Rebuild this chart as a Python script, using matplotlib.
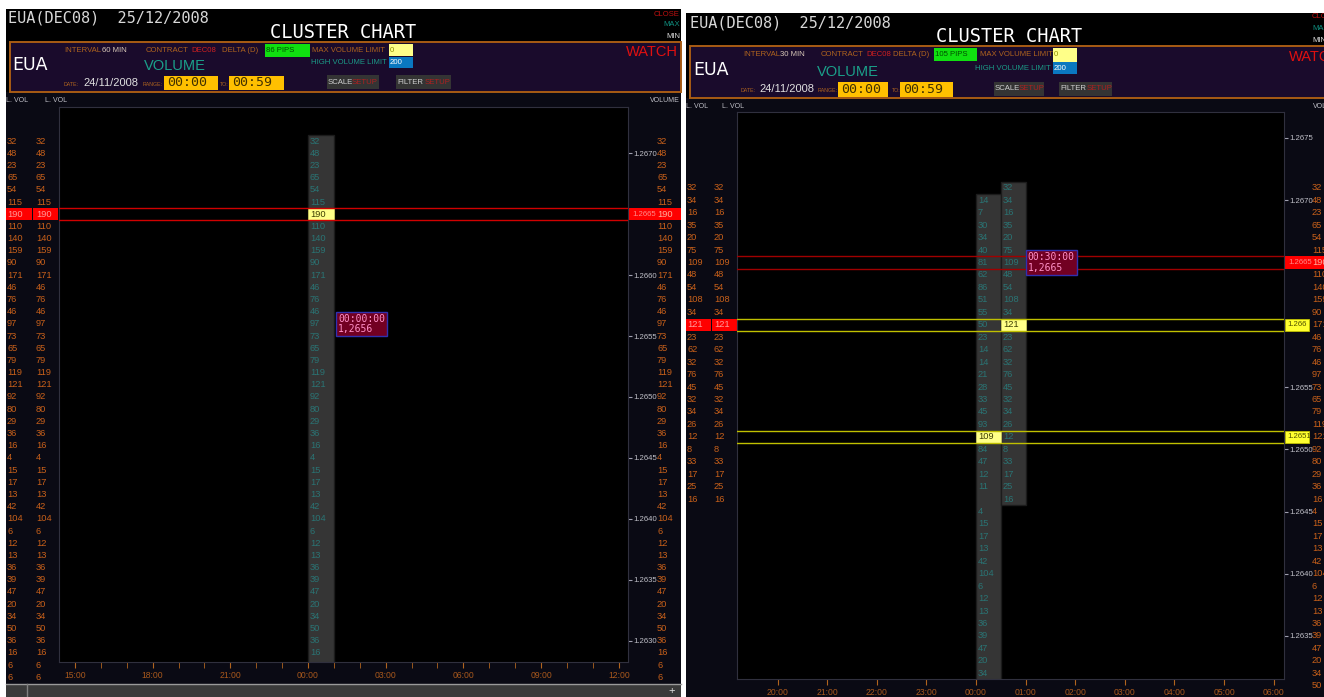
import matplotlib
matplotlib.use("Agg")
import matplotlib.pyplot as plt
from matplotlib.patches import Rectangle
import numpy as np

# ---------------- data ----------------
PIP = 0.0001
hourly_top_price = 1.2671
hourly_volume = [32, 48, 23, 65, 54, 115, 190, 110, 140, 159, 90, 171, 46, 76, 46, 97,
                 73, 65, 79, 119, 121, 92, 80, 29, 36, 16, 4, 15, 17, 13, 42, 104, 6,
                 12, 13, 36, 39, 47, 20, 34, 50, 36, 16, 6, 6]
half1_top_price = 1.2670
half1_volume = [14, 7, 30, 34, 40, 81, 62, 86, 51, 55, 50, 23, 14, 14, 21, 28, 33, 45,
                93, 109, 84, 47, 12, 11, 0, 4, 15, 17, 13, 42, 104, 6, 12, 13, 36, 39,
                47, 20, 34, 50, 36, 16, 6, 6]
half2_top_price = 1.2671
half2_volume = [32, 34, 16, 35, 20, 75, 109, 48, 54, 108, 34, 121, 23, 62, 32, 76, 45,
                32, 34, 26, 12, 8, 33, 17, 25, 16]

left_time_ticks = [15, 18, 21, 24, 27, 30, 33, 36]
left_time_labels = ['15:00', '18:00', '21:00', '00:00', '03:00', '06:00', '09:00', '12:00']
right_time_ticks = [20, 21, 22, 23, 24, 25, 26, 27, 28, 29, 30]
right_time_labels = ['20:00', '21:00', '22:00', '23:00', '00:00', '01:00', '02:00',
                     '03:00', '04:00', '05:00', '06:00']
left_price_ticks = [1.2630, 1.2635, 1.2640, 1.2645, 1.2650, 1.2655, 1.2660, 1.2665, 1.2670]
right_price_ticks = [1.2635, 1.2640, 1.2645, 1.2650, 1.2655, 1.2660, 1.2665, 1.2670, 1.2675]
left_cursor = ('00:00:00', 1.2656)
right_cursor = ('00:30:00', 1.2665)

# ---------------- setup ----------------
W, H = 1324, 697
fig = plt.figure(figsize=(W / 100, H / 100), dpi=100)
fig.patch.set_facecolor('white')

NARROW = 'Liberation Sans'
MONO = 'DejaVu Sans Mono'
VAL_FS = 6.7

ORANGE = '#c8601a'
TEAL = '#2a7474'
NAVY = '#0a0a14'
GRAYTXT = '#c0c0c8'
LBL = '#b0641e'


def add_px_axes(x0, y0, x1, y1):
    return fig.add_axes([x0 / W, (H - y1) / H, (x1 - x0) / W, (y1 - y0) / H])


bg = fig.add_axes([0, 0, 1, 1])
bg.set_xlim(0, W)
bg.set_ylim(H, 0)
bg.axis('off')


def T(x, y, s, color, size=5.6, family=None, ha='left', va='center', **kw):
    bg.text(x, y, s, color=color, fontsize=size, family=family or NARROW,
            ha=ha, va=va, **kw)


def R(x0, y0, x1, y1, fc, ec='none', lw=0, z=1):
    bg.add_patch(Rectangle((x0, y0), x1 - x0, y1 - y0, fc=fc, ec=ec, lw=lw, zorder=z))


def header(h):
    x0, x1, top = h['panel']
    R(x0, top, x1, H, 'black')
    R(x0, h['box'][3], x1, H, NAVY)
    T(*h['title'], 'EUA(DEC08)  25/12/2008', '#d8d8d8', size=11, family=MONO)
    T(*h['cluster'], 'CLUSTER CHART', 'white', size=13.5, family=MONO, ha='center')
    cx, ha = h['close']
    for yy, s, c in zip(h['close_y'], ['CLOSE', 'MAX', 'MIN'], ['#c01010', '#109080', '#e0e0e0']):
        T(cx, yy, s, c, size=5.5, ha=ha, clip_on=True)
    bx = h['box']
    R(bx[0], bx[1], bx[2], bx[3], '#1a0b2c', ec='#a85c14', lw=1.4, z=2)
    y1 = h['row1']
    T(h['interval'], y1, 'INTERVAL', LBL, zorder=3)
    T(h['interval_val'], y1, h['interval_txt'], '#d8c8b8', zorder=3)
    T(h['contract'], y1, 'CONTRACT', LBL, zorder=3)
    T(h['dec'], y1, 'DEC08', '#d02020', zorder=3)
    T(h['delta'], y1, 'DELTA (D)', LBL, zorder=3)
    g = h['green']
    R(g[0], g[1], g[2], g[3], '#10e010', z=3)
    T(g[0] + 1, (g[1] + g[3]) / 2, h['pips'], '#005000', zorder=4)
    T(h['maxvol'], y1, 'MAX VOLUME LIMIT', LBL, zorder=3)
    yb = h['ybox']
    R(yb[0], yb[1], yb[2], yb[3], '#ffff88', z=3)
    T(yb[0] + 1, (yb[1] + yb[3]) / 2, '0', '#909000', zorder=4)
    T(h['highvol'][0], h['highvol'][1], 'HIGH VOLUME LIMIT', '#1a9a86', ha='right', zorder=3)
    bb = h['bbox']
    R(bb[0], bb[1], bb[2], bb[3], '#0a78c0', z=3)
    T(bb[0] + 1, (bb[1] + bb[3]) / 2, '200', 'white', zorder=4)
    wx, wy, wha = h['watch']
    T(wx, wy, 'WATCH', '#e01010', size=10.5, ha=wha, zorder=4, clip_on=True)
    T(*h['eua'], 'EUA', 'white', size=12.5, family='DejaVu Sans', zorder=3)
    T(h['volume'][0], h['volume'][1], 'VOLUME', '#1aa08a', size=10.5, ha='center', zorder=3)
    dy = h['row3']
    T(h['date'], dy + 1, 'DATE:', LBL, size=3.8, zorder=3)
    T(h['dateval'], dy, '24/11/2008', '#e0e0e0', size=8, zorder=3)
    T(h['range'], dy + 1, 'RANGE:', LBL, size=3.8, zorder=3)
    for b, s in zip(h['tboxes'], ['00:00', '00:59']):
        R(b[0], b[1], b[2], b[3], '#ffc000', z=3)
        T(b[0] + 3, (b[1] + b[3]) / 2, s, '#403000', size=9.5, family=MONO, zorder=4)
    T(h['to'], dy + 1, 'TO:', LBL, size=3.8, zorder=3)
    for b, s, sx in zip(h['sboxes'], ['SCALE', 'FILTER'], h['setup_x']):
        R(b[0], b[1], b[2], b[3], '#343434', z=3)
        T(b[0] + 1, (b[1] + b[3]) / 2, s, '#d0d0d0', size=5.6, zorder=4)
        T(sx, (b[1] + b[3]) / 2, 'SETUP', '#b02020', size=5.6, zorder=4)
    for lx in h['lvol_x']:
        T(lx, h['lvol_y'], 'L. VOL', GRAYTXT, size=5)
    T(h['vol_lbl'][0], h['lvol_y'], 'VOLUME', GRAYTXT, size=5, ha=h['vol_lbl'][1], clip_on=True)


left_header = dict(panel=(6, 681, 9), title=(8, 18), cluster=(343, 33), close=(680, 'right'),
                   close_y=(14, 25, 36), box=(10, 42, 681, 92), row1=51, interval=64,
                   interval_val=102, interval_txt='60 MIN', contract=146, dec=191, delta=222,
                   green=(265, 44, 310, 57), pips='86 PIPS', maxvol=312, ybox=(389, 44, 413, 56),
                   highvol=(387, 62), bbox=(389, 57, 413, 68), watch=(678, 52, 'right'),
                   eua=(12, 65), volume=(175, 66), row3=83, date=64, dateval=83, range=143,
                   tboxes=[(164, 76, 218, 90), (229, 76, 284, 90)], to=220,
                   sboxes=[(327, 75, 379, 89), (396, 75, 451, 89)], setup_x=[352, 425],
                   lvol_x=(6, 45), lvol_y=100, vol_lbl=(680, 'right'))
right_header = dict(panel=(686, 1324, 13), title=(690, 22.5), cluster=(1009, 37), close=(1312, 'left'),
                    close_y=(17, 28, 40), box=(690, 46, 1330, 98), row1=55, interval=743,
                    interval_val=780, interval_txt='30 MIN', contract=821, dec=866, delta=893,
                    green=(934, 48, 977, 61), pips='105 PIPS', maxvol=980, ybox=(1053, 48, 1077, 62),
                    highvol=(1051, 68), bbox=(1053, 62, 1077, 74), watch=(1289, 57, 'left'),
                    eua=(693, 70), volume=(848, 72), row3=89, date=741, dateval=759, range=818,
                    tboxes=[(838, 82, 888, 97), (900, 82, 953, 97)], to=892,
                    sboxes=[(994, 82, 1044, 96), (1059, 82, 1112, 96)], setup_x=[1019, 1087],
                    lvol_x=(686, 722), lvol_y=106, vol_lbl=(1313, 'left'))
header(left_header)
header(right_header)

# scrollbar of left window
R(6, 684, 681, 697, '#3a3a3a', z=2)
bg.plot([6, 681], [684, 684], color='#9a9a9a', lw=1, zorder=3)
bg.plot([27, 27], [684, 697], color='#808080', lw=1, zorder=3)
T(672, 691, '+', '#e0e0e0', size=8, ha='center', zorder=4)
T(643, 673, '->', 'white', size=7.5, family=MONO, zorder=5)
T(1298, 690, '->', 'white', size=7.5, family=MONO, zorder=5)


# ---------------- chart panels ----------------
def draw_panel(cfg):
    def p_of(y):
        return cfg['ref_price'] + (cfg['ref_y'] - y) / cfg['ppp'] * PIP

    def h_of(x):
        return 24 + (x - cfg['x24']) / cfg['pph']

    px0, py0, px1, py1 = cfg['panel']
    cx0, cy0, cx1, cy1 = cfg['chart']
    pph = cfg['pph']
    pan_lo, pan_hi = p_of(py1 - 4), p_of(py0)
    ch_lo, ch_hi = p_of(cy1 - 4), p_of(cy0)

    # side columns (volume ladders)
    pax = add_px_axes(px0, py0, px1, py1)
    pax.set_xlim(px0, px1)
    pax.set_ylim(p_of(py1), p_of(py0))
    pax.set_facecolor(NAVY)
    pax.set_xticks([])
    pax.set_yticks([])
    for s in pax.spines.values():
        s.set_visible(False)

    hp = np.round(hourly_top_price - PIP * np.arange(len(hourly_volume)), 4)
    hmax_p = hp[int(np.argmax(hourly_volume))]
    lv_vals, lv_top = cfg['lvol']
    lp = np.round(lv_top - PIP * np.arange(len(lv_vals)), 4)
    lmax_p = lp[int(np.argmax(lv_vals))]

    b1, b2 = cfg['lv_bands']
    for (a, b) in (b1, b2):
        pax.add_patch(Rectangle((a, lmax_p - PIP / 2), b - a, PIP, fc='#ff0000', ec='none', zorder=2))
    for p, v in zip(lp, lv_vals):
        if not (pan_lo <= p <= pan_hi):
            continue
        c = '#ff9a9a' if p == lmax_p else ORANGE
        for xx in cfg['lv_x']:
            pax.text(xx, p, str(v), color=c, fontsize=VAL_FS, family=NARROW, va='center',
                     ha='left', zorder=3, clip_on=True)
    # right axis volume ladder
    pax.add_patch(Rectangle((cx1 + 1, hmax_p - PIP / 2), px1 - cx1, PIP, fc='#ff0000', ec='none', zorder=2))
    pax.text(cx1 + 4, hmax_p, f"{hmax_p:.4f}", color='#ff8a8a', fontsize=5.6, family=NARROW,
             va='center', ha='left', zorder=3)
    for p, v in zip(hp, hourly_volume):
        if not (pan_lo <= p <= pan_hi):
            continue
        c = '#ffb0a0' if p == hmax_p else ORANGE
        pax.text(cfg['vol_x'], p, str(v), color=c, fontsize=VAL_FS, family=NARROW, va='center',
                 ha='left', zorder=3, clip_on=True)

    # main chart
    cax = add_px_axes(cx0, cy0, cx1, cy1)
    cax.set_facecolor('black')
    cax.set_xlim(h_of(cx0), h_of(cx1))
    cax.set_ylim(p_of(cy1), p_of(cy0))
    cax.set_xticks(cfg['xt'])
    cax.set_xticklabels(cfg['xl'])
    cax.set_xticks(cfg['xminor'], minor=True)
    cax.yaxis.tick_right()
    marked = {hmax_p}
    bar_maxes = []
    for (h0, w, top, vols) in cfg['bars']:
        pr = np.round(top - PIP * np.arange(len(vols)), 4)
        bar_maxes.append(pr[int(np.argmax(vols))])
    marked |= set(bar_maxes)
    yt = [t for t in cfg['yt'] if round(t, 4) not in marked]
    cax.set_yticks(yt)
    cax.set_yticklabels([f"{t:.4f}" for t in yt])
    cax.tick_params(axis='x', which='both', colors='#b0641e', labelcolor='#a8581c',
                    labelsize=6.2, length=4, direction='out', pad=2.5)
    cax.tick_params(axis='y', colors='#a0a0b0', labelcolor=GRAYTXT, labelsize=5.6,
                    length=3, direction='out', pad=1)
    for lab in cax.get_xticklabels() + cax.get_yticklabels():
        lab.set_family(NARROW)
    for s in cax.spines.values():
        s.set_color('#30303e')
        s.set_linewidth(0.8)

    for (h0, w, top, vols) in cfg['bars']:
        n = len(vols)
        cax.bar(h0, n * PIP, bottom=top - (n - 0.5) * PIP, width=w, align='edge',
                color='#353535', edgecolor='#1c1c1c', linewidth=1, zorder=2)
        pr = np.round(top - PIP * np.arange(n), 4)
        im = int(np.argmax(vols))
        cax.add_patch(Rectangle((h0, pr[im] - PIP / 2), w, PIP, fc='#ffff88', ec='#c8c860',
                                lw=0.6, zorder=3))
        for i, (p, v) in enumerate(zip(pr, vols)):
            if v == 0 or not (ch_lo <= p <= ch_hi):
                continue
            cax.text(h0 + 2 / pph, p, str(v), color='#3c3c00' if i == im else TEAL,
                     fontsize=VAL_FS, family=NARROW, va='center', ha='left', zorder=4, clip_on=True)

    # highlighted rows
    for yy in (hmax_p - PIP / 2, hmax_p + PIP / 2):
        cax.axhline(yy, color=cfg['red_line'], lw=1, zorder=5)
    for p in set(bar_maxes) - {hmax_p}:
        for yy in (p - PIP / 2, p + PIP / 2):
            cax.axhline(yy, color='#c0c000', lw=1, zorder=5)
        pax.add_patch(Rectangle((cx1 + 1, p - PIP / 2), cfg['ybox_w'], PIP, fc='#ffff30',
                                ec='#c0c000', lw=0.6, zorder=2))
        pax.text(cx1 + 3, p, f"{p:.4f}".rstrip('0'), color='#505000', fontsize=5.6,
                 family=NARROW, va='center', ha='left', zorder=3)

    # cursor tooltip
    t_lbl, t_price = cfg['cursor']
    cax.text(cfg['cursor_h'] + cfg['tip_dx'] / pph, t_price,
             f"{t_lbl}\n{t_price:.4f}".replace('.', ','), family=MONO, fontsize=7,
             color='#ff90c8', va='center', ha='left', linespacing=1.05, zorder=7,
             bbox=dict(boxstyle='square,pad=0.2', fc='#720022', ec='#3030b0', lw=1))


left_cfg = dict(ref_price=1.2670, ref_y=153.3, ppp=12.185, x24=308, pph=25.9,
                panel=(6, 107, 681, 683), chart=(59, 107, 628, 662),
                lvol=(hourly_volume, hourly_top_price), lv_bands=((6, 32), (33, 58)), lv_x=(7, 36),
                vol_x=657, xt=left_time_ticks, xl=left_time_labels,
                xminor=list(range(15, 37)), yt=left_price_ticks,
                bars=[(24, 1.0, hourly_top_price, hourly_volume)],
                red_line='#d00000', ybox_w=24, cursor=left_cursor, cursor_h=24, tip_dx=30)
right_cfg = dict(ref_price=1.2670, ref_y=200.25, ppp=12.45, x24=976, pph=49.6,
                 panel=(686, 112, 1324, 697), chart=(737, 112, 1284, 679),
                 lvol=(half2_volume, half2_top_price), lv_bands=((686, 711), (712, 737)), lv_x=(687, 714),
                 vol_x=1312, xt=right_time_ticks, xl=right_time_labels,
                 xminor=[], yt=right_price_ticks,
                 bars=[(24, 0.5, half1_top_price, half1_volume),
                       (24.5, 0.5, half2_top_price, half2_volume)],
                 red_line='#a00000', ybox_w=24, cursor=right_cursor, cursor_h=24.5, tip_dx=27)
draw_panel(left_cfg)
draw_panel(right_cfg)

fig.savefig('out.png', dpi=100, facecolor='white')
